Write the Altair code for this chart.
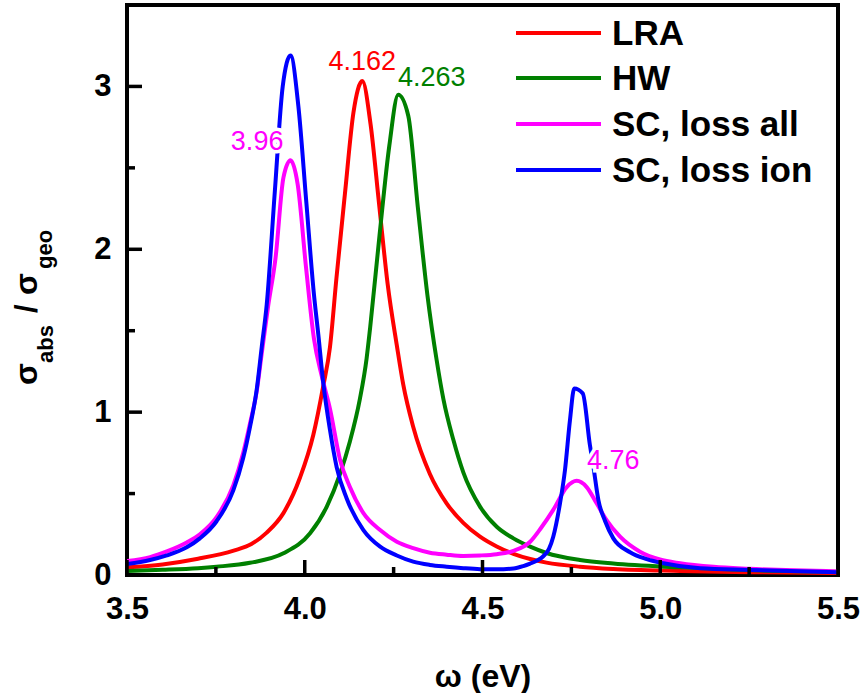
import altair as alt
import pandas as pd

# ---------------- data ----------------
series_names = ["LRA", "HW", "SC, loss all", "SC, loss ion"]
series_colors = ["#ff0000", "#008000", "#ff00ff", "#0000ff"]

lra_x = [3.5, 3.6, 3.7, 3.8, 3.85, 3.893, 3.94, 3.987, 4.024, 4.052, 4.071, 4.089, 4.113, 4.137,
         4.162, 4.185, 4.209, 4.233, 4.259, 4.277, 4.305, 4.352, 4.399, 4.446, 4.493, 4.54,
         4.587, 4.634, 4.68, 4.774, 4.868, 5.056, 5.25, 5.5]
lra_y = [0.047, 0.065, 0.10, 0.15, 0.19, 0.26, 0.38, 0.60, 0.86, 1.16, 1.40, 1.82, 2.34, 2.84,
         3.033, 2.77, 2.28, 1.79, 1.41, 1.17, 0.91, 0.62, 0.44, 0.32, 0.235, 0.175,
         0.13, 0.098, 0.076, 0.051, 0.037, 0.025, 0.017, 0.012]

hw_x = [3.5, 3.6, 3.7, 3.752, 3.846, 3.94, 4.015, 4.062, 4.099, 4.127, 4.155, 4.174, 4.184,
        4.211, 4.238, 4.263, 4.291, 4.318, 4.345, 4.371, 4.39, 4.418, 4.446, 4.493, 4.54,
        4.587, 4.634, 4.68, 4.774, 4.868, 5.056, 5.25, 5.5]
hw_y = [0.025, 0.032, 0.042, 0.051, 0.075, 0.133, 0.256, 0.42, 0.62, 0.82, 1.08, 1.33, 1.52,
        2.10, 2.638, 2.949, 2.822, 2.26, 1.72, 1.32, 1.08, 0.83, 0.63, 0.42, 0.296,
        0.225, 0.174, 0.135, 0.092, 0.07, 0.047, 0.03, 0.02]

sca_x = [3.5, 3.565, 3.612, 3.668, 3.705, 3.752, 3.799, 3.827, 3.846, 3.865, 3.879, 3.897,
         3.918, 3.94, 3.96, 3.98, 4.004, 4.026, 4.048, 4.071, 4.099, 4.127, 4.165, 4.212,
         4.259, 4.305, 4.352, 4.399, 4.446, 4.493, 4.54, 4.587, 4.634, 4.665, 4.699, 4.737,
         4.765, 4.793, 4.821, 4.849, 4.887, 4.943, 4.999, 5.056, 5.15, 5.25, 5.5]
sca_y = [0.086, 0.11, 0.145, 0.20, 0.25, 0.355, 0.55, 0.75, 0.93, 1.13, 1.36, 1.65,
         1.95, 2.44, 2.546, 2.40, 1.88, 1.45, 1.22, 1.02, 0.71, 0.54, 0.38, 0.276,
         0.204, 0.165, 0.137, 0.125, 0.117, 0.12, 0.128, 0.148, 0.204, 0.29, 0.40, 0.54,
         0.578, 0.54, 0.44, 0.337, 0.235, 0.143, 0.095, 0.072, 0.05, 0.038, 0.022]

sci_x = [3.5, 3.565, 3.612, 3.668, 3.705, 3.752, 3.799, 3.827, 3.846, 3.865, 3.879, 3.893,
         3.916, 3.938, 3.96, 3.982, 4.004, 4.026, 4.038, 4.052, 4.071, 4.09, 4.118, 4.165,
         4.212, 4.259, 4.305, 4.352, 4.399, 4.446, 4.493, 4.54, 4.587, 4.615, 4.634, 4.655,
         4.671, 4.687, 4.699, 4.718, 4.732, 4.746, 4.758, 4.782, 4.802, 4.812, 4.826, 4.845,
         4.868, 4.915, 4.962, 5.009, 5.112, 5.252, 5.5]
sci_y = [0.067, 0.092, 0.12, 0.17, 0.225, 0.33, 0.52, 0.72, 0.91, 1.14, 1.40, 1.66,
         2.36, 3.0, 3.19, 2.88, 2.30, 1.72, 1.48, 1.18, 0.89, 0.66, 0.47, 0.276,
         0.174, 0.12, 0.082, 0.062, 0.051, 0.042, 0.036, 0.035, 0.04, 0.055, 0.07, 0.09,
         0.115, 0.16, 0.235, 0.44, 0.644, 0.95, 1.145, 1.115, 0.80, 0.664, 0.46, 0.33,
         0.225, 0.14, 0.098, 0.072, 0.041, 0.031, 0.017]

peak_labels = ["3.96", "4.162", "4.263", "4.76"]
peak_label_x = [3.94, 4.162, 4.262, 4.794]
peak_label_y = [2.656, 3.147, 3.049, 0.699]
peak_label_series = ["SC, loss all", "LRA", "HW", "SC, loss all"]
peak_label_align = ["right", "center", "left", "left"]

x_major = [3.5, 4.0, 4.5, 5.0, 5.5]
x_minor = [3.75, 4.25, 4.75, 5.25]
y_major = [0, 1, 2, 3]
y_minor = [0.5, 1.5, 2.5]

# ---------------- build tables ----------------
rows = []
for name, xs, ys in zip(series_names, [lra_x, hw_x, sca_x, sci_x], [lra_y, hw_y, sca_y, sci_y]):
    for i, (a, b) in enumerate(zip(xs, ys)):
        rows.append({"series": name, "w": a, "s": b, "order": i})
df = pd.DataFrame(rows)

W, H = 711, 570
FONT = "Liberation Sans"

xscale = alt.Scale(domain=[3.5, 5.5], nice=False, zero=False)
yscale = alt.Scale(domain=[0, 3.5], nice=False)
xaxis = alt.Axis(values=x_major, format=".1f", title="ω (eV)", ticks=False, domain=False,
                 grid=False, labelFont=FONT, labelFontSize=31, labelFontWeight="bold",
                 labelColor="black", labelPadding=19, labelFlush=False,
                 titleFont=FONT, titleFontSize=32, titleFontWeight="bold",
                 titleColor="black", titlePadding=37)
yaxis = alt.Axis(values=y_major, format="d", title=None, ticks=False, domain=False,
                 grid=False, labelFont=FONT, labelFontSize=31, labelFontWeight="bold",
                 labelColor="black", labelPadding=16, labelFlush=False)

def X(field="w"):
    return alt.X(f"{field}:Q", scale=xscale, axis=xaxis)

def Y(field="s"):
    return alt.Y(f"{field}:Q", scale=yscale, axis=yaxis)

color_scale = alt.Scale(domain=series_names, range=series_colors)

lines = alt.Chart(df).mark_line(strokeWidth=4, clip=True, interpolate="monotone").encode(
    x=X(), y=Y(), color=alt.Color("series:N", scale=color_scale, legend=None),
    order="order:Q", detail="series:N")

# inward ticks
xt_major = alt.Chart(pd.DataFrame({"w": x_major})).mark_rule(color="black", strokeWidth=3.5).encode(
    x=X(), y=alt.value(H), y2=alt.value(H - 15))
xt_minor = alt.Chart(pd.DataFrame({"w": x_minor})).mark_rule(color="black", strokeWidth=3.5).encode(
    x=X(), y=alt.value(H), y2=alt.value(H - 8))
yt_major = alt.Chart(pd.DataFrame({"s": y_major})).mark_rule(color="black", strokeWidth=3.5).encode(
    y=Y(), x=alt.value(0), x2=alt.value(15))
yt_minor = alt.Chart(pd.DataFrame({"s": y_minor})).mark_rule(color="black", strokeWidth=3.5).encode(
    y=Y(), x=alt.value(0), x2=alt.value(8))

# peak annotations (with white halo that interrupts the lines, as in the reference)
ann = pd.DataFrame({"label": peak_labels, "w": peak_label_x, "s": peak_label_y,
                    "series": peak_label_series, "align": peak_label_align})
ann_layers = []
for al in ["right", "center", "left"]:
    sub = ann[ann["align"] == al]
    halo = alt.Chart(sub).mark_text(align=al, baseline="middle", font=FONT, fontSize=27,
                                    color="white", stroke="white", strokeWidth=7).encode(
        x=X(), y=Y(), text="label:N")
    txt = alt.Chart(sub).mark_text(align=al, baseline="middle", font=FONT, fontSize=27).encode(
        x=X(), y=Y(), text="label:N",
        color=alt.Color("series:N", scale=color_scale, legend=None))
    ann_layers += [halo, txt]

# legend drawn inside the plot, top right
legend_layers = []
leg_row_y = [28, 73, 119, 165]
for i, (name, col) in enumerate(zip(series_names, series_colors)):
    ld = pd.DataFrame({"series": [name]})
    legend_layers.append(alt.Chart(ld).mark_rule(strokeWidth=4, color=col).encode(
        x=alt.value(389), x2=alt.value(474), y=alt.value(leg_row_y[i])))
    legend_layers.append(alt.Chart(ld).mark_text(
        align="left", baseline="middle", font=FONT, fontSize=35, fontWeight="bold",
        color="black").encode(text="series:N", x=alt.value(485), y=alt.value(leg_row_y[i] + 1)))

# y-axis title built from pieces (subscripts)
title_pieces = [("σ", 32, -90, 380), ("abs", 22, -74, 358), ("/", 31, -90, 308),
                ("σ", 32, -90, 290), ("geo", 22, -75, 264)]
title_layers = []
for t, fs, px, py in title_pieces:
    title_layers.append(
        alt.Chart(pd.DataFrame({"t": [t]})).mark_text(
            angle=270, align="left", baseline="alphabetic", font=FONT, fontSize=fs,
            fontWeight="bold", color="black").encode(
            text="t:N", x=alt.value(px), y=alt.value(py)))

chart = alt.layer(lines, *ann_layers, xt_major, xt_minor, yt_major, yt_minor,
                  *legend_layers, *title_layers).properties(
    width=W, height=H,
    background="white",
    autosize=alt.AutoSizeParams(type="none"),
    padding={"left": 127, "top": 5, "right": 27, "bottom": 118},
).configure_view(stroke="black", strokeWidth=4)

chart.save("out.html", embed_options={"renderer": "svg", "actions": False})
